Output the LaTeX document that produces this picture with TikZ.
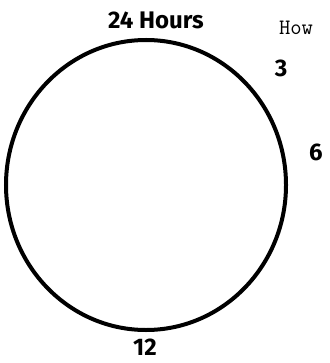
\documentclass[tikz,border=0pt]{standalone}
\usepackage{fontspec}
\setmainfont{Fira Sans}
\begin{document}
\begin{tikzpicture}[x=1pt,y=-1pt,
  hand/.style={font=\fontsize{24}{24}\selectfont\bfseries, inner sep=0pt},
  typew/.style={font=\ttfamily\fontsize{22}{22}\selectfont, inner sep=0pt}]
\useasboundingbox (0,0) rectangle (329,363);
\draw[line width=4pt] (146,185) ellipse [x radius=140, y radius=145];
\node[hand] (title) at (156,20) {24 Hours};
\node[typew] (how) at (296,28) {How};
\node[hand] (three) at (281,68) {3};
\node[hand] (six) at (316,152) {6};
\node[hand] (twelve) at (145,347) {12};
\end{tikzpicture}
\end{document}
